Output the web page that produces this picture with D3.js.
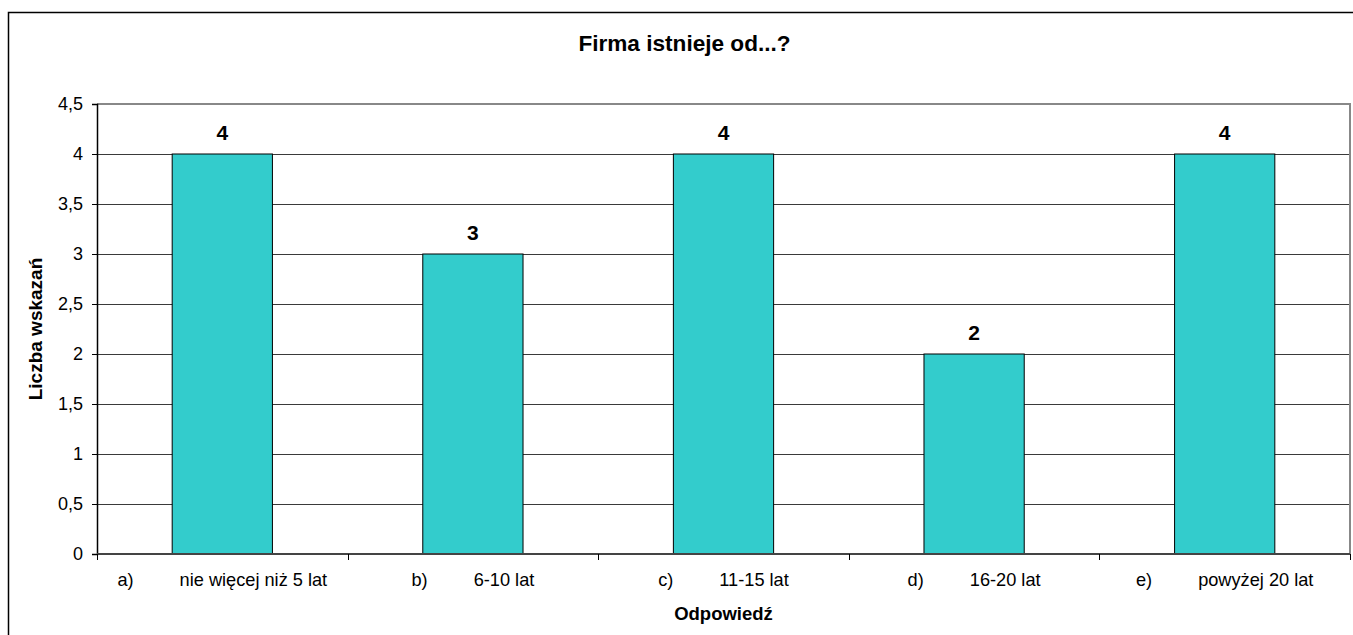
<!DOCTYPE html>
<html>
<head>
<meta charset="utf-8">
<script src="https://cdn.jsdelivr.net/npm/d3@7"></script>
<style>
  html, body { margin: 0; padding: 0; background: #fff; }
  svg { display: block; font-family: Arial, "Liberation Sans", sans-serif; }
</style>
</head>
<body>
<svg id="chart" width="1353" height="635"></svg>
<script>
// Survey answers: how long has the company existed
const letters = ["a)", "b)", "c)", "d)", "e)"];
const answers = ["nie więcej niż 5 lat", "6-10 lat", "11-15 lat", "16-20 lat", "powyżej 20 lat"];
const counts = [4, 3, 4, 2, 4];
const yTicks = [0, 0.5, 1, 1.5, 2, 2.5, 3, 3.5, 4, 4.5];
const titleText = "Firma istnieje od...?";
const xTitle = "Odpowiedź";
const yTitle = "Liczba wskazań";

const svg = d3.select("#chart");
const plot = { left: 97, right: 1350, top: 104, bottom: 554 };

// outer chart frame
svg.append("rect")
  .attr("x", 8.5).attr("y", 12.5)
  .attr("width", 1360).attr("height", 640)
  .attr("fill", "#fff").attr("stroke", "#000").attr("stroke-width", 1.5);

const x = d3.scaleBand()
  .domain(letters)
  .range([plot.left, plot.right])
  .paddingInner(0.6)
  .paddingOuter(0.3);

const y = d3.scaleLinear()
  .domain([0, 4.5])
  .range([plot.bottom, plot.top]);

const fmt = v => String(v).replace(".", ",");

// horizontal gridlines
svg.append("g")
  .selectAll("line")
  .data(yTicks.filter(t => t > 0 && t < 4.5))
  .join("line")
  .attr("x1", plot.left).attr("x2", plot.right)
  .attr("y1", d => Math.round(y(d)) + 0.5).attr("y2", d => Math.round(y(d)) + 0.5)
  .attr("stroke", "#3a3a3a").attr("stroke-width", 1);

// plot area top and right edges
svg.append("path")
  .attr("d", `M${plot.left},${plot.top}H${plot.right}V${plot.bottom}`)
  .attr("fill", "none").attr("stroke", "#888").attr("stroke-width", 2);

// bars
svg.append("g")
  .selectAll("rect")
  .data(counts)
  .join("rect")
  .attr("x", (d, i) => x(letters[i]))
  .attr("y", d => y(d))
  .attr("width", x.bandwidth())
  .attr("height", d => y(0) - y(d))
  .attr("fill", "#33CCCC")
  .attr("stroke", "#000").attr("stroke-width", 1);

// value labels
svg.append("g")
  .selectAll("text")
  .data(counts)
  .join("text")
  .attr("x", (d, i) => x(letters[i]) + x.bandwidth() / 2)
  .attr("y", d => y(d) - 14)
  .attr("text-anchor", "middle")
  .attr("font-size", 21).attr("font-weight", "bold")
  .text(d => d);

// y axis
const yAxis = svg.append("g")
  .attr("transform", `translate(${plot.left},0)`)
  .call(d3.axisLeft(y).tickValues(yTicks).tickFormat(fmt).tickSize(5).tickPadding(9));
yAxis.select(".domain").attr("stroke", "#000").attr("stroke-width", 1.5);
yAxis.selectAll(".tick line").attr("stroke", "#000");
yAxis.selectAll(".tick text")
  .attr("font-size", 18).attr("fill", "#000")
  .attr("font-family", "Arial, 'Liberation Sans', sans-serif");

// x axis line with ticks on category boundaries
const xAxisG = svg.append("g");
xAxisG.append("line")
  .attr("x1", plot.left).attr("x2", plot.right)
  .attr("y1", plot.bottom).attr("y2", plot.bottom)
  .attr("stroke", "#444").attr("stroke-width", 2);
const step = x.step();
const boundaries = d3.range(letters.length + 1).map(i => x(letters[0]) - x.paddingOuter() * step + i * step);
xAxisG.selectAll("line.tk")
  .data(boundaries)
  .join("line").attr("class", "tk")
  .attr("x1", d => Math.round(d) + 0.5).attr("x2", d => Math.round(d) + 0.5)
  .attr("y1", plot.bottom).attr("y2", plot.bottom + 6)
  .attr("stroke", "#000");

// category labels
const catLabels = xAxisG.selectAll("text.cat")
  .data(letters)
  .join("text").attr("class", "cat")
  .attr("x", d => x(d) + x.bandwidth() / 2)
  .attr("y", 586)
  .attr("text-anchor", "middle")
  .attr("font-size", 18.2);
catLabels.append("tspan").text(d => d);
catLabels.append("tspan").attr("dx", 46).text((d, i) => answers[i]);

// titles
svg.append("text")
  .attr("x", 684.5).attr("y", 51)
  .attr("text-anchor", "middle")
  .attr("font-size", 22.6).attr("font-weight", "bold")
  .text(titleText);

svg.append("text")
  .attr("x", (plot.left + plot.right) / 2).attr("y", 620)
  .attr("text-anchor", "middle")
  .attr("font-size", 18.5).attr("font-weight", "bold")
  .text(xTitle);

svg.append("text")
  .attr("transform", `translate(42,${(plot.top + plot.bottom) / 2}) rotate(-90)`)
  .attr("text-anchor", "middle")
  .attr("font-size", 19).attr("font-weight", "bold")
  .text(yTitle);
</script>
</body>
</html>
